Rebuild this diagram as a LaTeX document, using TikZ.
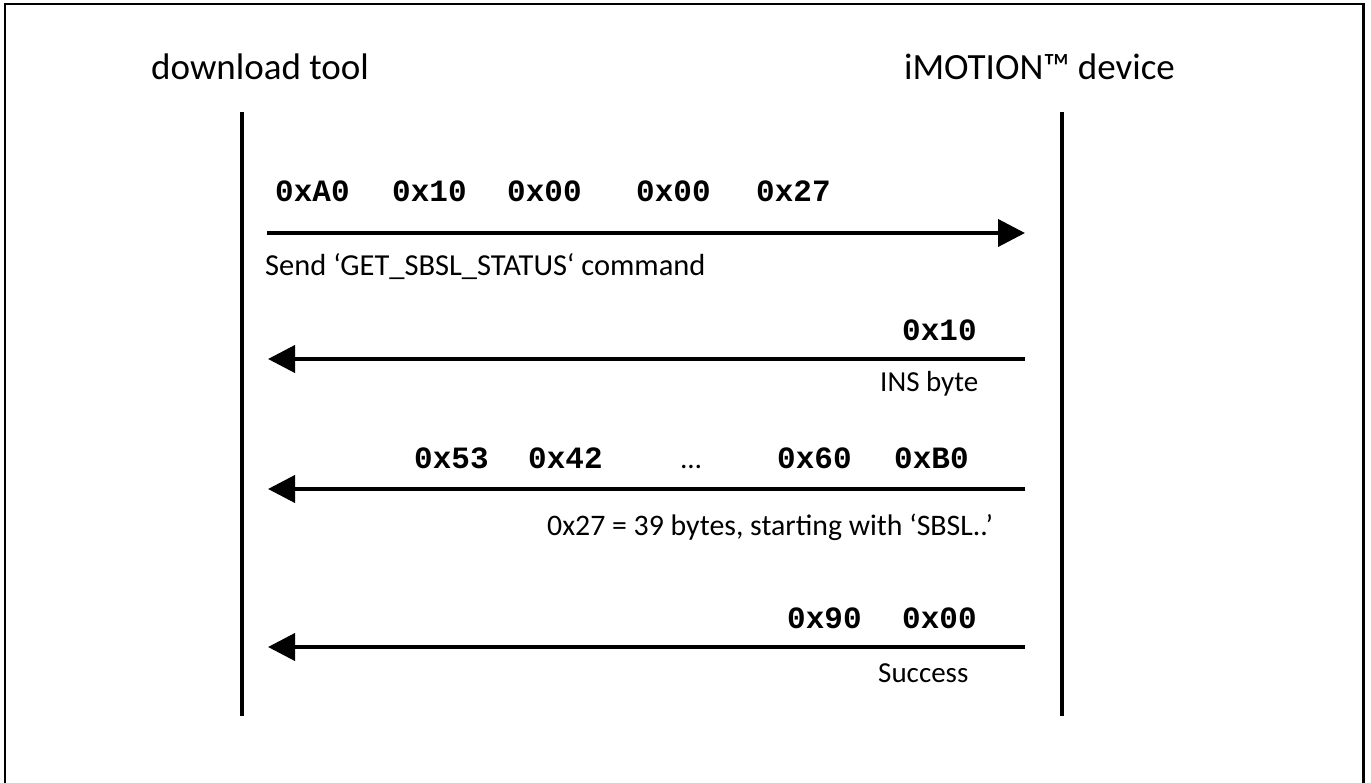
\documentclass[tikz,border=0pt]{standalone}
\usepackage{fontspec}
\setmainfont{Carlito}
\newfontfamily\hexfam{Liberation Mono}
\usetikzlibrary{arrows.meta}
\begin{document}
\begin{tikzpicture}[x=1pt,y=-1pt,
  hex/.style={font=\hexfam\bfseries\fontsize{31}{37}\selectfont, inner sep=0pt, anchor=base west},
  captxt/.style={font=\fontsize{29}{35}\selectfont, inner sep=0pt, anchor=base west},
  ttl/.style={font=\fontsize{37}{44}\selectfont, inner sep=0pt},
  life/.style={line width=4pt},
  msg/.style={line width=4pt, -{Triangle[length=27pt,width=27pt]}},
  frm/.style={line width=2.5pt}]
\useasboundingbox (0,0) rectangle (1371,783);
% frame (bottom edge outside the picture)
\draw[frm] (5,795) -- (5,4) -- (1363.5,4) -- (1363.5,795);
% titles
\node[ttl, anchor=base west] (t1) at (151,80) {download tool};
\node[ttl, anchor=base east] (t2) at (1175,80) {iMOTION™ device};
% lifelines
\coordinate (L1) at (242,112);
\coordinate (L2) at (242,716);
\coordinate (R1) at (1061.5,112);
\coordinate (R2) at (1061.5,716);
\draw[life] (L1) -- (L2);
\draw[life] (R1) -- (R2);
% message 1
\coordinate (m1a) at (267,233);
\coordinate (m1b) at (1025,233);
\draw[msg] (m1a) -- (m1b);
\node[hex] (h11) at (275,202) {0xA0};
\node[hex] (h12) at (392,202) {0x10};
\node[hex] (h13) at (507,202) {0x00};
\node[hex] (h14) at (636,202) {0x00};
\node[hex] (h15) at (756,202) {0x27};
\node[captxt, font=\fontsize{30.5}{36}\selectfont] (c1) at (265,276) {Send ‘GET\_SBSL\_STATUS‘ command};
% message 2
\coordinate (m2a) at (1025,359);
\coordinate (m2b) at (268,359);
\draw[msg] (m2a) -- (m2b);
\node[hex] (h21) at (902,341) {0x10};
\node[captxt] (c2) at (880,392) {INS byte};
% message 3
\coordinate (m3a) at (1025,489);
\coordinate (m3b) at (268,489);
\draw[msg] (m3a) -- (m3b);
\node[hex] (h31) at (414,468) {0x53};
\node[hex] (h32) at (528,468) {0x42};
\node[captxt] (e3) at (681,468) {…};
\node[hex] (h33) at (777,468) {0x60};
\node[hex] (h34) at (894,468) {0xB0};
\node[captxt, font=\fontsize{29.8}{35}\selectfont] (c3) at (547,535) {0x27 = 39 bytes, starting with ‘SBSL..’};
% message 4
\coordinate (m4a) at (1025,647);
\coordinate (m4b) at (268,647);
\draw[msg] (m4a) -- (m4b);
\node[hex] (h41) at (787,628) {0x90};
\node[hex] (h42) at (902,628) {0x00};
\node[captxt] (c4) at (878,682) {Success};
\end{tikzpicture}
\end{document}
